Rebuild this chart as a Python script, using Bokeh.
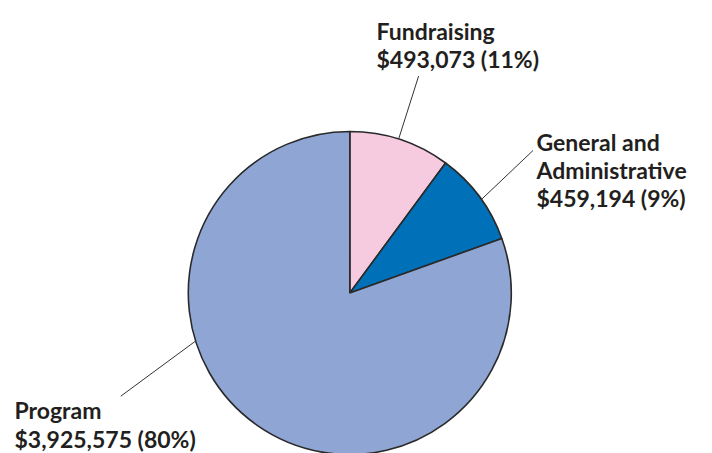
import math
from bokeh.plotting import figure
from bokeh.models import Range1d, ColumnDataSource
from bokeh.core.properties import value
from bokeh.embed import file_html
from bokeh.resources import INLINE

# ---- data ----
categories = ["Fundraising", "General and Administrative", "Program"]
amounts = [493073, 459194, 3925575]
pct_labels = ["11%", "9%", "80%"]
name_lines = [["Fundraising"], ["General and", "Administrative"], ["Program"]]
colors = ["#F7CBDF", "#0070B8", "#8FA6D5"]

# ---- layout (screen pixels inside the 712x453 window) ----
W, H = 712, 453
def dx(sx): return sx
def dy(sy): return H - sy

CX, CY, R = dx(349.3), dy(292.5), 161.5
# label anchor: left x, first baseline, line height
label_pos = [(376, 30.5, 27.5), (536, 141.5, 27.8), (14, 409.5, 28.5)]
# leader: angle on rim (deg clockwise from top), direction (deg clockwise from top), length
leaders = [(17.6, 17.6, 66), (54.6, 46.5, 71), (252.7, 233.6, 93)]

p = figure(width=W, height=H, output_backend="svg", toolbar_location=None,
           x_range=Range1d(0, W), y_range=Range1d(0, H), min_border=0)
p.axis.visible = False
p.grid.visible = False
p.outline_line_color = None
p.background_fill_color = "white"

total = sum(amounts)
starts, ends = [], []
acc = 0.0
for a in amounts:
    s = math.pi / 2 - 2 * math.pi * acc / total
    acc += a
    e = math.pi / 2 - 2 * math.pi * acc / total
    starts.append(s)
    ends.append(e)

src = ColumnDataSource(dict(x=[CX] * 3, y=[CY] * 3, start=starts, end=ends,
                            color=colors, cat=categories))
p.wedge(x="x", y="y", radius=R, start_angle="start", end_angle="end",
        direction="clock", fill_color="color", line_color="#2a2a2a",
        line_width=1.6, source=src)

# leader lines
xs, ys = [], []
for ang, dirn, ln in leaders:
    a = math.radians(ang)
    x0 = CX + R * math.sin(a)
    y0 = CY + R * math.cos(a)
    d = math.radians(dirn)
    x1 = x0 + ln * math.sin(d)
    y1 = y0 + ln * math.cos(d)
    xs.append([x0, x1])
    ys.append([y0, y1])
p.multi_line(xs=xs, ys=ys, line_color="#333333", line_width=1)

# labels
tx, ty, tt = [], [], []
for i in range(len(categories)):
    lx, base, lh = label_pos[i]
    lines = list(name_lines[i]) + ["${:,} ({})".format(amounts[i], pct_labels[i])]
    for j, t in enumerate(lines):
        tx.append(dx(lx))
        ty.append(dy(base + j * lh))
        tt.append(t)
p.text(x=tx, y=ty, text=tt, text_font=value("Lato"), text_font_style="bold",
       text_font_size="23px", text_color="#231F20", text_align="left",
       text_baseline="alphabetic")

open("out.html", "w").write(file_html(p, INLINE))
